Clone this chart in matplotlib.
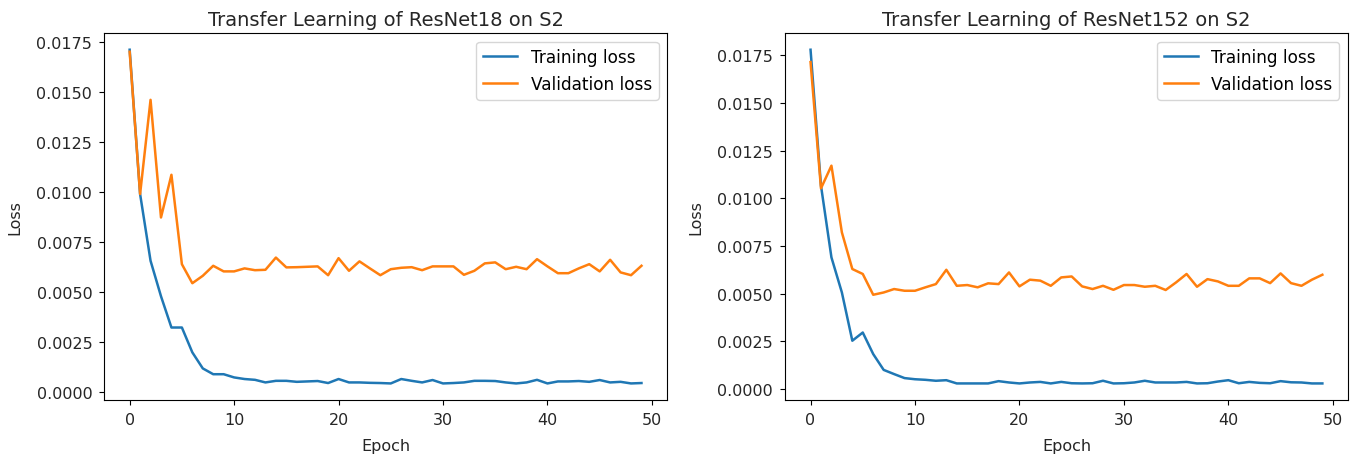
import matplotlib
matplotlib.use("Agg")
import matplotlib.pyplot as plt

epochs = list(range(50))

# ResNet18
train18 = [0.0171, 0.0099, 0.00657, 0.0048, 0.00324, 0.00324, 0.0020, 0.0012, 0.00091, 0.00091,
           0.00075, 0.00067, 0.00063, 0.0005, 0.00058, 0.00058, 0.00053, 0.00055, 0.00057, 0.00047,
           0.00067, 0.0005, 0.0005, 0.00048, 0.00047, 0.00045, 0.00067, 0.00058, 0.0005, 0.00062,
           0.00045, 0.00047, 0.0005, 0.00058, 0.00058, 0.00057, 0.0005, 0.00045, 0.0005, 0.00063,
           0.00045, 0.00055, 0.00055, 0.00057, 0.00053, 0.00062, 0.0005, 0.00053, 0.00045, 0.00047]
val18 = [0.0170, 0.0099, 0.0146, 0.00873, 0.01086, 0.0064, 0.00545, 0.00582, 0.00632, 0.00604,
         0.00604, 0.00619, 0.0061, 0.00612, 0.00673, 0.00624, 0.00625, 0.00627, 0.00629, 0.00585,
         0.0067, 0.00607, 0.00654, 0.00619, 0.00585, 0.00615, 0.00622, 0.00625, 0.0061, 0.00629,
         0.00629, 0.00629, 0.00587, 0.00607, 0.00644, 0.00649, 0.00615, 0.00627, 0.00615, 0.00665,
         0.00629, 0.00595, 0.00595, 0.00619, 0.0064, 0.00604, 0.00662, 0.00599, 0.00585, 0.00632]

# ResNet152
train152 = [0.0178, 0.01067, 0.00691, 0.00507, 0.00254, 0.00297, 0.00184, 0.00101, 0.00079, 0.00058,
            0.00052, 0.00049, 0.00044, 0.00047, 0.0003, 0.0003, 0.0003, 0.0003, 0.00042, 0.00035,
            0.0003, 0.00035, 0.00038, 0.0003, 0.00038, 0.00031, 0.0003, 0.00031, 0.00044, 0.0003,
            0.00031, 0.00035, 0.00044, 0.00035, 0.00035, 0.00035, 0.00038, 0.0003, 0.00031, 0.0004,
            0.00047, 0.00031, 0.00038, 0.00033, 0.00031, 0.00042, 0.00036, 0.00035, 0.0003, 0.0003]
val152 = [0.01715, 0.01053, 0.01172, 0.00822, 0.0063, 0.00604, 0.00495, 0.00507, 0.00525, 0.00516,
          0.00516, 0.00534, 0.00551, 0.00626, 0.00542, 0.00546, 0.00534, 0.00555, 0.00551, 0.00612,
          0.00539, 0.00574, 0.00569, 0.00542, 0.00586, 0.00591, 0.00539, 0.00525, 0.00542, 0.00521,
          0.00546, 0.00546, 0.00537, 0.00542, 0.0052, 0.0056, 0.00604, 0.00537, 0.00577, 0.00565,
          0.00542, 0.00542, 0.00581, 0.00581, 0.00556, 0.00607, 0.00556, 0.00542, 0.00574, 0.006]

fig = plt.figure(figsize=(13.55, 4.6), dpi=100)
ax1 = fig.add_axes([0.0768, 0.128, 0.4155, 0.798])
ax2 = fig.add_axes([0.5793, 0.128, 0.4155, 0.798])

for ax, tr, va, name in [(ax1, train18, val18, "ResNet18"), (ax2, train152, val152, "ResNet152")]:
    ax.plot(epochs, tr, label="Training loss", lw=1.8)
    ax.plot(epochs, va, label="Validation loss", lw=1.8)
    ax.set_title(f"Transfer Learning of {name} on S2", fontsize=14, color="#262626")
    ax.set_xlabel("Epoch", fontsize=11.5, color="#262626", labelpad=8)
    ax.set_ylabel("Loss", fontsize=11.5, color="#262626", labelpad=10)
    ax.set_yticks([0.0, 0.0025, 0.005, 0.0075, 0.01, 0.0125, 0.015, 0.0175])
    ax.tick_params(labelsize=11.5, labelcolor="#262626", pad=5)
    ax.legend(loc="upper right", fontsize=12.2)

fig.savefig("out.png", dpi=100)
